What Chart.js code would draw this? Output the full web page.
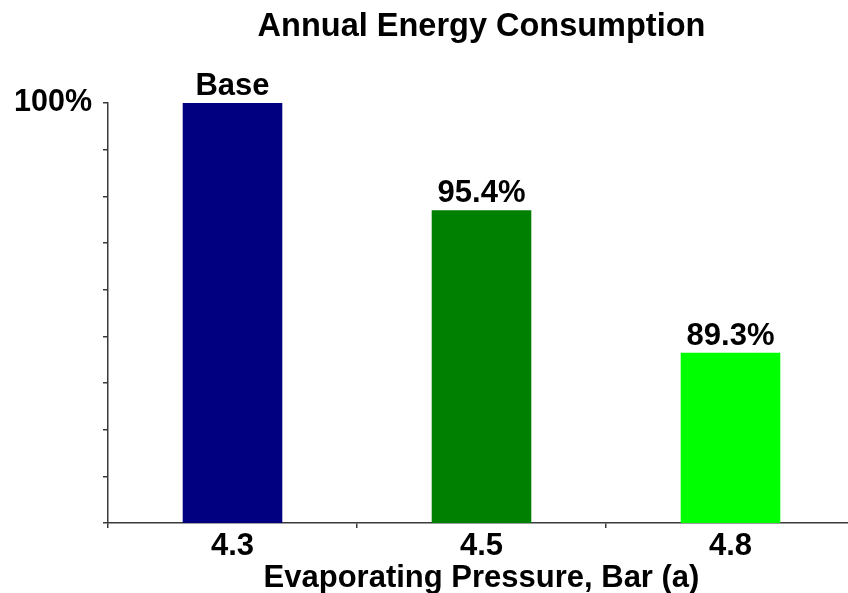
<!DOCTYPE html>
<html>
<head>
<meta charset="utf-8">
<script src="https://cdn.jsdelivr.net/npm/chart.js@4.4.1/dist/chart.umd.min.js"></script>
<style>
  html, body { margin: 0; padding: 0; background: #fff; overflow: hidden; }
  #wrap { width: 848px; height: 593px; overflow: hidden; position: relative; }
  #box { width: 860px; height: 593px; position: absolute; left: 0; top: 0; }
</style>
</head>
<body>
<div id="wrap"><div id="box"><canvas id="c"></canvas></div></div>
<script>
// Evaporating pressure categories and relative annual energy use (%)
const pressures = ['4.3', '4.5', '4.8'];
const consumption = [100, 95.4, 89.3];
const barColors = ['#000080', '#008000', '#00ff00'];
const yMin = 82;
const yMax = 100;
const yStep = 2;

const FONT = "'Liberation Sans', Arial, sans-serif";
const AXIS = '#3a3a3a';

// The reference case is labelled "Base"; the others show their percentage
const barLabel = v => (v === 100 ? 'Base' : v.toFixed(1) + '%');

const valueLabels = {
  id: 'valueLabels',
  afterDatasetsDraw(chart) {
    const ctx = chart.ctx;
    const meta = chart.getDatasetMeta(0);
    ctx.save();
    ctx.font = 'bold 31px ' + FONT;
    ctx.fillStyle = '#000';
    ctx.textAlign = 'center';
    ctx.textBaseline = 'alphabetic';
    meta.data.forEach((bar, i) => {
      ctx.fillText(barLabel(consumption[i]), bar.x, bar.y - 8);
    });
    ctx.restore();
  }
};

new Chart(document.getElementById('c'), {
  type: 'bar',
  data: {
    labels: pressures,
    datasets: [{
      data: consumption,
      backgroundColor: barColors,
      borderWidth: 0,
      barPercentage: 0.8,
      categoryPercentage: 0.5
    }]
  },
  options: {
    responsive: true,
    maintainAspectRatio: false,
    animation: false,
    devicePixelRatio: 1,
    layout: { padding: { left: 0, right: 5, top: 0, bottom: 0 } },
    plugins: {
      legend: { display: false },
      tooltip: { enabled: false },
      title: {
        display: true,
        text: 'Annual Energy Consumption',
        fullSize: false,
        color: '#000',
        font: { family: FONT, size: 32.5, weight: 'bold', lineHeight: 1.2 },
        padding: { top: 8, bottom: 56 }
      }
    },
    scales: {
      x: {
        offset: true,
        grid: { offset: true, drawOnChartArea: false, tickLength: 5, color: AXIS, lineWidth: 1.5 },
        border: { color: AXIS, width: 1.5 },
        ticks: { color: '#000', font: { family: FONT, size: 31, weight: 'bold' }, padding: 0, maxRotation: 0 },
        title: {
          display: true,
          text: 'Evaporating Pressure, Bar (a)',
          color: '#000',
          font: { family: FONT, size: 31, weight: 'bold', lineHeight: 0.92 },
          padding: { top: 0, bottom: 0 }
        },
        afterFit(scale) { scale.height = 70; }
      },
      y: {
        min: yMin,
        max: yMax,
        grid: { drawOnChartArea: false, tickLength: 5, color: AXIS, lineWidth: 1.5 },
        border: { color: AXIS, width: 1.5 },
        ticks: {
          stepSize: yStep,
          color: '#000',
          padding: 11,
          font: { family: FONT, size: 30.5, weight: 'bold' },
          callback: v => (v === 100 ? '100%' : '')
        },
        afterFit(scale) { scale.width = 108; }
      }
    }
  },
  plugins: [valueLabels]
});
</script>
</body>
</html>
